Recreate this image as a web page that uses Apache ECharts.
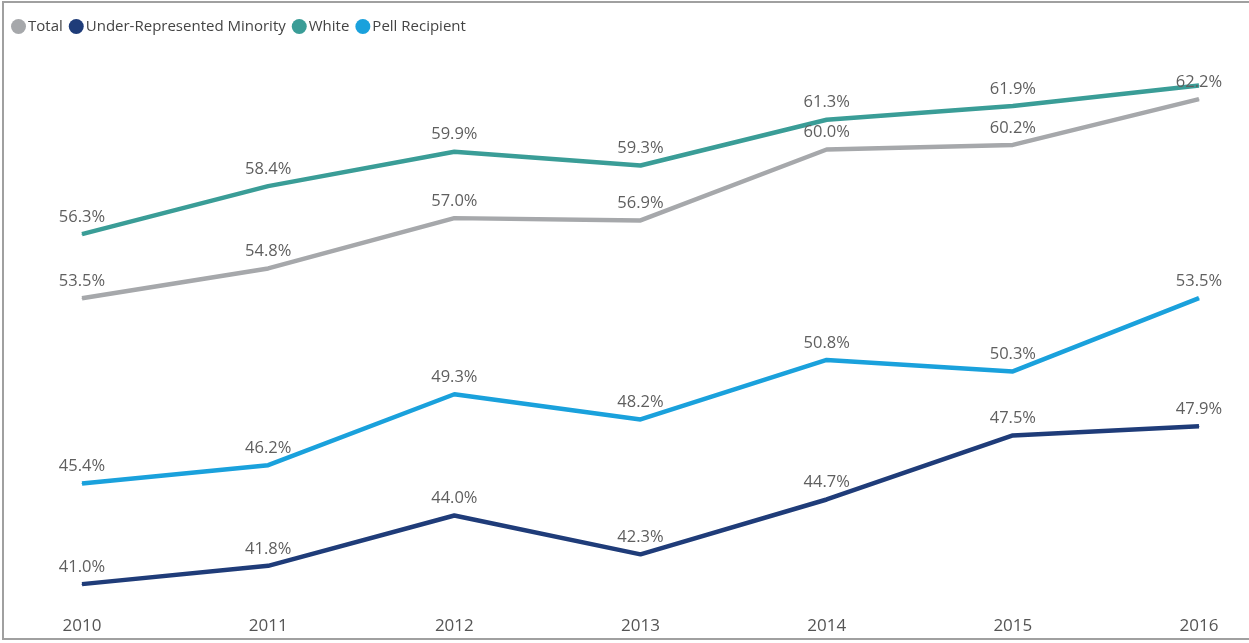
<!DOCTYPE html>
<html>
<head>
<meta charset="utf-8">
<script src="https://cdn.jsdelivr.net/npm/echarts@6/dist/echarts.min.js"></script>
<style>
html,body{margin:0;padding:0;background:#fff;}
#frame{position:absolute;left:2px;top:1px;width:1260px;height:639px;border:2px solid #a0a0a0;box-sizing:border-box;}
#chart{position:absolute;left:0;top:0;width:1249px;height:643px;}
</style>
</head>
<body>
<div id="frame"></div>
<div id="chart"></div>
<script>
const years = ['2010','2011','2012','2013','2014','2015','2016'];
const total = [53.5, 54.8, 57.0, 56.9, 60.0, 60.2, 62.2];
const urm = [41.0, 41.8, 44.0, 42.3, 44.7, 47.5, 47.9];
const white = [56.3, 58.4, 59.9, 59.3, 61.3, 61.9, 62.8];
const pell = [45.4, 46.2, 49.3, 48.2, 50.8, 50.3, 53.5];
const hiddenLabels = { 'White': [6] };

const colors = { 'Total': '#a6a8ab', 'Under-Represented Minority': '#1f3c79', 'White': '#3a9d97', 'Pell Recipient': '#1aa1dc' };
const FONT = '"Open Sans", "Noto Sans", sans-serif';

function mk(name, arr) {
  const hide = hiddenLabels[name] || [];
  return {
    name: name,
    type: 'line',
    data: arr.map((v, i) => hide.includes(i) ? { value: v, label: { show: false } } : v),
    symbol: 'circle',
    symbolSize: 1,
    showSymbol: true,
    smooth: false,
    lineStyle: { width: 4.5, color: colors[name] },
    itemStyle: { color: colors[name] },
    label: {
      show: true,
      position: 'top',
      distance: 8,
      color: '#5f5f5f',
      fontSize: 16.5,
      fontFamily: FONT,
      formatter: p => Number(p.value).toFixed(1) + '%'
    },
    labelLayout: { hideOverlap: false },
    z: 2
  };
}

const chart = echarts.init(document.getElementById('chart'), null, { renderer: 'canvas' });
chart.setOption({
  animation: false,
  backgroundColor: 'transparent',
  legend: {
    left: 6,
    top: 14,
    icon: 'circle',
    itemWidth: 15,
    itemHeight: 15,
    itemGap: 6,
    textStyle: { color: '#444', fontSize: 15, fontFamily: FONT, padding: [0, 0, 0, -3] },
    data: ['Total', 'Under-Represented Minority', 'White', 'Pell Recipient']
  },
  grid: { left: 82, right: 50, top: 58, bottom: 36 },
  xAxis: {
    type: 'category',
    data: years,
    boundaryGap: false,
    axisLine: { show: false },
    axisTick: { show: false },
    axisLabel: { color: '#555', fontSize: 17, fontFamily: FONT, margin: 11 }
  },
  yAxis: {
    type: 'value',
    min: 40,
    max: 64,
    show: false,
    splitLine: { show: false }
  },
  series: [
    mk('Total', total),
    mk('Under-Represented Minority', urm),
    mk('White', white),
    mk('Pell Recipient', pell)
  ]
});
</script>
</body>
</html>
